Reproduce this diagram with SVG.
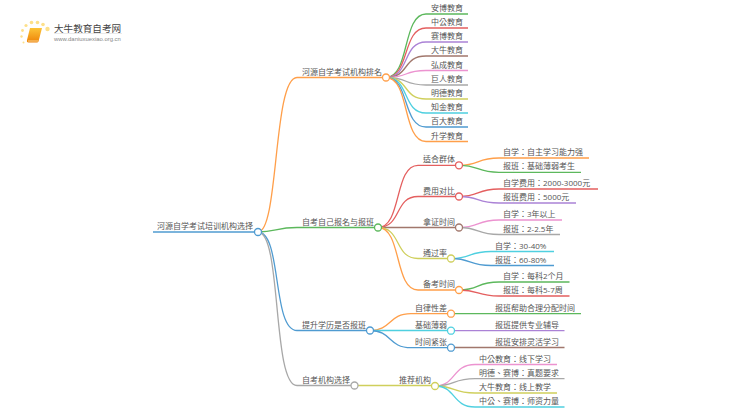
<svg xmlns="http://www.w3.org/2000/svg" width="750" height="410" viewBox="0 0 750 410">
<defs><linearGradient id="bk" x1="0" y1="0" x2="0" y2="1"><stop offset="0" stop-color="#fcc437"/><stop offset="1" stop-color="#ee8208"/></linearGradient></defs>
<style>
text{font-family:"Open Sans","Noto Sans CJK TC",sans-serif;font-size:8px;fill:#555}
path{fill:none;stroke-width:1.3}
circle.n{fill:#fff;stroke-width:1.3}
.o{stroke:#ff9f4a}.g{stroke:#5cb85c}.e{stroke:#e45f5f}.p{stroke:#ab82d6}.b{stroke:#a1776c}.k{stroke:#ec93d0}.y{stroke:#a8a8a8}.l{stroke:#cfcf5c}.c{stroke:#4fd0e0}.u{stroke:#4f9bd1}
.d{fill:#fde08a}
</style>
<g id="logo">
<circle class="d" cx="47.500" cy="29" r="2.200"/><circle class="d" cx="43" cy="24.500" r="1.800"/><circle class="d" cx="37.500" cy="22.500" r="1.800"/><circle class="d" cx="31.500" cy="22.500" r="1.800"/><circle class="d" cx="26" cy="25.500" r="1.600"/><circle class="d" cx="22.500" cy="30.500" r="1.400"/><circle class="d" cx="21.500" cy="36.500" r="1.200"/><circle class="d" cx="23.500" cy="42.500" r="1"/>
<path d="M30,28H42L38.500,41.500Q38,42.500 37,42.500H28.500Q26.500,42.500 27,40Z" style="fill:url(#bk);stroke:none"/>
<path d="M28,41H38" style="stroke:#fde6b0;stroke-width:0.800"/>
<text x="54" y="31.500" style="font-size:9.600px;fill:#444;font-family:'Noto Sans CJK SC',sans-serif">大牛教育自考网</text>
<rect x="54" y="33" width="68" height="0.600" fill="#ddd"/>
<text x="54" y="41" style="font-size:5.900px;fill:#888;font-family:'Liberation Sans',sans-serif">www.daniuxuexiao.org.cn</text>
</g>
<g id="connectors">
<path class="u" d="M153,232H258" style="stroke-width:1.700"/>
<path class="o" d="M258,232C279,232 273,77.500 297,77.500H386"/>
<path class="g" d="M258,232C276,232 276,227.500 297,227.500H378"/>
<path class="u" d="M258,232C282,232 272,330.500 297,330.500H370"/>
<path class="y" d="M258,232C282,232 272,385.500 297,385.500H354.500"/>
<path class="g" d="M386,77.500C410,77.500 402,14 426,14H468"/>
<path class="e" d="M386,77.500C410,77.500 402,28 426,28H468"/>
<path class="p" d="M386,77.500C410,77.500 402,42 426,42H468"/>
<path class="b" d="M386,77.500C410,77.500 402,56 426,56H468"/>
<path class="k" d="M386,77.500C410,77.500 402,70.500 426,70.500H468"/>
<path class="y" d="M386,77.500C410,77.500 402,85 426,85H468"/>
<path class="l" d="M386,77.500C410,77.500 402,99 426,99H468"/>
<path class="c" d="M386,77.500C410,77.500 402,113 426,113H468"/>
<path class="u" d="M386,77.500C410,77.500 402,127 426,127H468"/>
<path class="o" d="M386,77.500C410,77.500 402,141.500 426,141.500H468"/>
<path class="e" d="M378,227.500C402,227.500 394,165.300 418,165.300H459"/>
<path class="e" d="M378,227.500C402,227.500 394,196.500 418,196.500H459"/>
<path class="b" d="M378,227.500H459"/>
<path class="l" d="M378,227.500C402,227.500 394,258.500 418,258.500H451"/>
<path class="o" d="M378,227.500C402,227.500 394,290 418,290H459"/>
<path class="o" d="M459,165.300C480,165.300 476,158 499,158H589"/>
<path class="g" d="M459,165.300C480,165.300 476,172.300 499,172.300H581"/>
<path class="e" d="M459,196.500C480,196.500 476,189 499,189H598"/>
<path class="p" d="M459,196.500C480,196.500 476,203 499,203H576"/>
<path class="k" d="M459,227.500C480,227.500 476,220 499,220H562"/>
<path class="y" d="M459,227.500C480,227.500 476,234.500 499,234.500H560"/>
<path class="c" d="M451,258.500C472,258.500 468,251.500 491,251.500H554"/>
<path class="u" d="M451,258.500C472,258.500 468,265.500 491,265.500H554"/>
<path class="g" d="M459,290C480,290 476,282 499,282H569.500"/>
<path class="e" d="M459,290C480,290 476,296 499,296H569.500"/>
<path class="o" d="M370,330.500C392,330.500 388,313.700 411,313.700H451"/>
<path class="c" d="M370,330.500H451"/>
<path class="u" d="M370,330.500C392,330.500 388,347.700 411,347.700H451"/>
<path class="g" d="M451,313.700H581"/>
<path class="p" d="M451,330.700H564.500"/>
<path class="b" d="M451,347.500H564.500"/>
<path class="l" d="M354.500,385.500H435"/>
<path class="k" d="M435,386C456,386 452,364.500 475,364.500H557"/>
<path class="y" d="M435,386C456,386 452,378.700 475,378.700H564.500"/>
<path class="l" d="M435,386C456,386 452,393 475,393H557"/>
<path class="c" d="M435,386C456,386 452,407 475,407H564.500"/>
</g>
<g id="root"><text x="157" y="228.500">河源自学考试培训机构选择</text><circle class="n u" cx="258" cy="232" r="3.500"/></g>
<g id="n1"><text x="302" y="74.500">河源自学考试机构排名</text><circle class="n o" cx="386" cy="77.500" r="3.500"/></g>
<g id="n2"><text x="302" y="224.500">自考自己报名与报班</text><circle class="n g" cx="378" cy="227.500" r="3.500"/></g>
<g id="n3"><text x="302" y="327.500">提升学历是否报班</text><circle class="n u" cx="370" cy="330.500" r="3.500"/></g>
<g id="n4"><text x="302" y="382.500">自考机构选择</text><circle class="n y" cx="354.500" cy="385.500" r="3.500"/></g>
<g id="leaf-org">
<text x="431" y="11">安博教育</text><text x="431" y="25">中公教育</text><text x="431" y="39">赛博教育</text><text x="431" y="53">大牛教育</text><text x="431" y="67.500">弘成教育</text><text x="431" y="82">巨人教育</text><text x="431" y="96">明德教育</text><text x="431" y="110">知金教育</text><text x="431" y="124">百大教育</text><text x="431" y="138.500">升学教育</text>
</g>
<g id="n21"><text x="423" y="162.300">适合群体</text><circle class="n e" cx="459" cy="165.300" r="3.500"/></g>
<g id="n22"><text x="423" y="193.500">费用对比</text><circle class="n e" cx="459" cy="196.500" r="3.500"/></g>
<g id="n23"><text x="423" y="224.500">拿证时间</text><circle class="n b" cx="459" cy="227.500" r="3.500"/></g>
<g id="n24"><text x="423" y="255.500">通过率</text><circle class="n l" cx="451" cy="258.500" r="3.500"/></g>
<g id="n25"><text x="423" y="287">备考时间</text><circle class="n o" cx="459" cy="290" r="3.500"/></g>
<g id="leaf-2">
<text x="503" y="155">自学：自主学习能力强</text><text x="503" y="169.300">报班：基础薄弱考生</text>
<text x="503" y="186">自学费用：2000-3000元</text><text x="503" y="200">报班费用：5000元</text>
<text x="503" y="217">自学：3年以上</text><text x="503" y="231.500">报班：2-2.5年</text>
<text x="495" y="248.500">自学：30-40%</text><text x="495" y="262.500">报班：60-80%</text>
<text x="503" y="279">自学：每科2个月</text><text x="503" y="293">报班：每科5-7周</text>
</g>
<g id="n31"><text x="415" y="310.700">自律性差</text><circle class="n o" cx="451" cy="313.700" r="3.500"/></g>
<g id="n32"><text x="415" y="327.700">基础薄弱</text><circle class="n c" cx="451" cy="330.700" r="3.500"/></g>
<g id="n33"><text x="415" y="344.700">时间紧张</text><circle class="n u" cx="451" cy="347.700" r="3.500"/></g>
<g id="leaf-3"><text x="495" y="310.700">报班帮助合理分配时间</text><text x="495" y="327.700">报班提供专业辅导</text><text x="495" y="344.500">报班安排灵活学习</text></g>
<g id="n41"><text x="399" y="383">推荐机构</text><circle class="n l" cx="435" cy="386" r="3.500"/></g>
<g id="leaf-4"><text x="479" y="361.500">中公教育：线下学习</text><text x="479" y="375.700">明德、赛博：真题要求</text><text x="479" y="390">大牛教育：线上教学</text><text x="479" y="404">中公、赛博：师资力量</text></g>
</svg>
